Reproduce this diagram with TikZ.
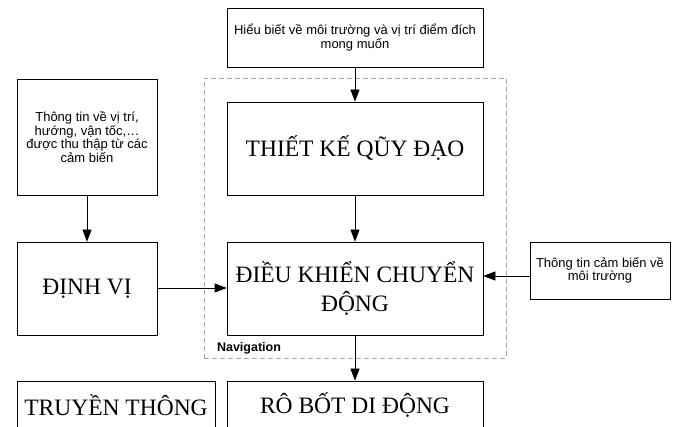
\documentclass[tikz,border=0pt]{standalone}
\usepackage{fontspec}
\setmainfont{Liberation Serif}
\setsansfont{Liberation Sans}
\usetikzlibrary{arrows.meta,positioning}

\begin{document}
\begin{tikzpicture}[
    x=1pt, y=-1pt,
    every node/.style={draw, rectangle, line width=0.7pt, align=center, inner sep=2pt},
    bigbox/.style={font=\fontsize{23.5}{29}\selectfont},
    infobox/.style={font=\sffamily\fontsize{13}{13.5}\selectfont},
    navbox/.style={draw=black!35, dashed, dash pattern=on 5pt off 3pt, line width=0.6pt},
    flow/.style={-{Triangle[length=12pt,width=9pt]}, line width=0.7pt}
    ]

    \useasboundingbox (0,0) rectangle (680,427);

    \node[navbox, minimum width=302pt, minimum height=280pt] (nav) at (355,218) {};
    \node[draw=none, inner sep=0pt, font=\sffamily\bfseries\fontsize{12.5}{13}\selectfont,
          above right=4pt and 13pt of nav.south west] (navlabel) {Navigation};

    \node[infobox, minimum width=256pt, minimum height=59pt] (goal) at (355,37.5)
        {Hiểu biết về môi trường và vị trí điểm đích\\mong muốn};
    \node[bigbox, minimum width=256pt, minimum height=93pt] (design) at (355,148.5)
        {THIẾT KẾ QŨY ĐẠO};
    \node[infobox, minimum width=140pt, minimum height=116pt] (sensors) at (87,137)
        {Thông tin về vị trí,\\hướng, vận tốc,…\\được thu thập từ các\\cảm biến};
    \node[bigbox, minimum width=140pt, minimum height=93pt] (locate) at (87,288.5)
        {ĐỊNH VỊ};
    \node[bigbox, minimum width=256pt, minimum height=93pt] (control) at (355,288.5)
        {ĐIỀU KHIỂN CHUYỂN\\ĐỘNG};
    \node[infobox, minimum width=140pt, minimum height=57pt] (envinfo) at (600,270.5)
        {Thông tin cảm biến về\\môi trường};
    \node[bigbox, minimum width=198pt, minimum height=48pt] (comm) at (116,405)
        {TRUYỀN THÔNG};
    \node[bigbox, minimum width=256pt, minimum height=48pt] (robot) at (355,405)
        {RÔ BỐT DI ĐỘNG};

    \draw[flow] (goal) -- (design);
    \draw[flow] (design) -- (control);
    \draw[flow] (sensors) -- (locate);
    \draw[flow] (locate.east |- 0,288) -- (control.west |- 0,288);
    \draw[flow] (envinfo.west |- 0,276) -- (control.east |- 0,276);
    \draw[flow] (control) -- (robot);

\end{tikzpicture}
\end{document}
